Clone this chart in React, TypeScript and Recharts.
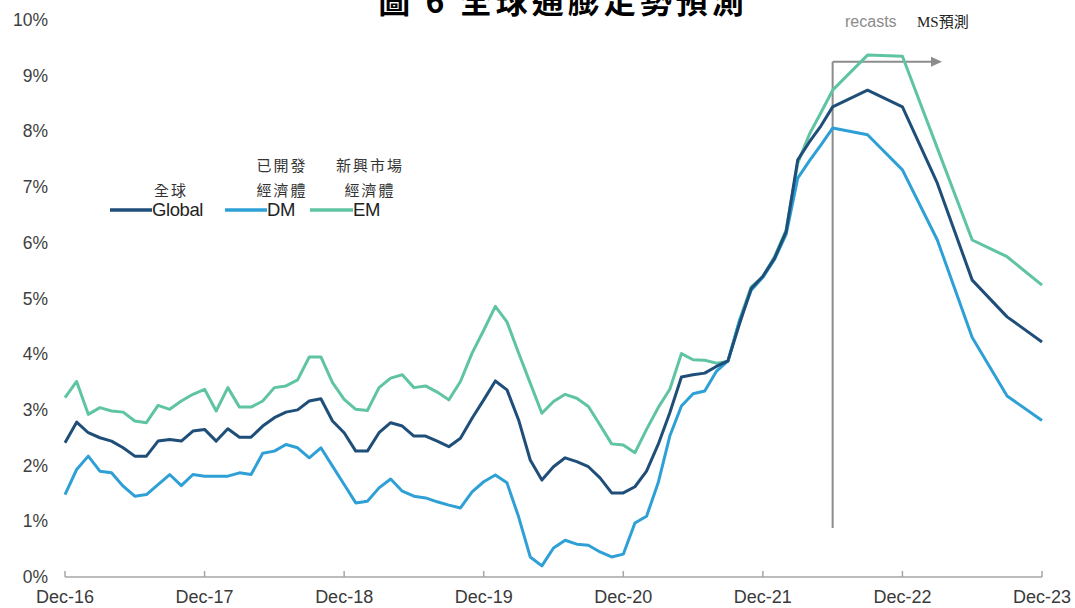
import React from "react";
import { LineChart, Line, XAxis, YAxis, ReferenceLine } from "recharts";

// ---------------- data (monthly, Dec-16 = month 0) ----------------
const tickMonths = [0, 12, 24, 36, 48, 60, 72, 84];
const tickLabels = ["Dec-16", "Dec-17", "Dec-18", "Dec-19", "Dec-20", "Dec-21", "Dec-22", "Dec-23"];
const yTicks = [0, 1, 2, 3, 4, 5, 6, 7, 8, 9, 10];

// history: month 0 .. 66
const globalHist = [
  2.41, 2.78, 2.59, 2.5, 2.44, 2.32, 2.17, 2.17, 2.44, 2.47, 2.44, 2.62,
  2.65, 2.44, 2.66, 2.51, 2.51, 2.71, 2.86, 2.96, 3.0, 3.16, 3.2, 2.8,
  2.59, 2.26, 2.26, 2.59, 2.77, 2.71, 2.53, 2.53, 2.44, 2.34, 2.49, 2.85,
  3.18, 3.52, 3.36, 2.82, 2.1, 1.74, 1.98, 2.14, 2.07, 1.98, 1.78, 1.51,
  1.51, 1.62, 1.9, 2.38, 2.95, 3.59, 3.63, 3.66, 3.78, 3.88, 4.55, 5.18,
  5.4, 5.72, 6.2, 7.49, 7.81, 8.1, 8.44,
];
const dmHist = [
  1.48, 1.93, 2.17, 1.9, 1.87, 1.63, 1.45, 1.48, 1.66, 1.84, 1.64, 1.84,
  1.81, 1.81, 1.81, 1.87, 1.84, 2.22, 2.26, 2.38, 2.32, 2.14, 2.32, 1.99,
  1.66, 1.33, 1.36, 1.6, 1.76, 1.54, 1.45, 1.42, 1.35, 1.29, 1.24, 1.53,
  1.71, 1.83, 1.69, 1.08, 0.36, 0.2, 0.52, 0.66, 0.59, 0.57, 0.45, 0.36,
  0.41, 0.97, 1.09, 1.69, 2.53, 3.07, 3.29, 3.34, 3.69, 3.88, 4.6, 5.15,
  5.38, 5.7, 6.15, 7.16, 7.47, 7.76, 8.06,
];
const emHist = [
  3.22, 3.51, 2.92, 3.04, 2.98, 2.96, 2.8, 2.77, 3.08, 3.01, 3.16, 3.28,
  3.37, 2.98, 3.4, 3.05, 3.05, 3.16, 3.4, 3.43, 3.54, 3.95, 3.95, 3.49,
  3.19, 3.01, 2.99, 3.4, 3.57, 3.63, 3.4, 3.43, 3.32, 3.18, 3.51, 4.02,
  4.43, 4.86, 4.58, 4.02, 3.48, 2.94, 3.15, 3.28, 3.21, 3.06, 2.73, 2.39,
  2.37, 2.23, 2.65, 3.04, 3.37, 4.01, 3.9, 3.89, 3.84, 3.87, 4.62, 5.21,
  5.39, 5.75, 6.23, 7.43, 7.95, 8.34, 8.74,
];

// MS forecasts (quarterly points)
const forecastMonths = [69, 72, 75, 78, 81, 84];
const globalFc = [8.74, 8.44, 7.07, 5.33, 4.67, 4.22];
const dmFc = [7.94, 7.31, 6.05, 4.3, 3.25, 2.81];
const emFc = [9.37, 9.35, 7.7, 6.05, 5.75, 5.24];

const forecastStart = 66;

const COLORS = { global: "#1f4e79", dm: "#2ea0d6", em: "#5fc4a3" };
const AXIS_GREY = "#a6a6a6";
const FONT = "'Liberation Sans', Arial, sans-serif";
const CJK = "'Noto Sans CJK TC', sans-serif";

function pick(hist: number[], fc: number[], m: number): number | null {
  if (m < hist.length) return hist[m];
  const i = forecastMonths.indexOf(m);
  return i >= 0 ? fc[i] : null;
}

const data = Array.from({ length: 85 }, (_, m) => ({
  m,
  global: pick(globalHist, globalFc, m),
  dm: pick(dmHist, dmFc, m),
  em: pick(emHist, emFc, m),
}));

// ---------------- ticks / shapes ----------------
const XTick = (props: any) => {
  const { x, y, payload } = props;
  const idx = tickMonths.indexOf(payload.value);
  return (
    <g>
      <line x1={x} x2={x} y1={y - 6} y2={y} stroke={AXIS_GREY} strokeWidth={1.5} />
      <text x={x} y={y + 26} textAnchor="middle" fontFamily={FONT} fontSize={18} fill="#3a3a3a">
        {tickLabels[idx]}
      </text>
    </g>
  );
};

const YTick = (props: any) => {
  const { y, payload } = props;
  return (
    <text x={48} y={y + 6} textAnchor="end" fontFamily={FONT} fontSize={17.5} fill="#404040">
      {payload.value}%
    </text>
  );
};

const ArrowLine = (props: any) => {
  const { x1, y1, x2, y2 } = props;
  return (
    <g>
      <line x1={x1} y1={y1} x2={x2 - 8} y2={y2} stroke="#8c8c8c" strokeWidth={2} />
      <polygon points={`${x2},${y2} ${x2 - 11},${y2 - 5} ${x2 - 11},${y2 + 5}`} fill="#8c8c8c" />
    </g>
  );
};

// ---------------- legend ----------------
const legendItems = [
  { key: "global", name: "Global", cn: ["", "全球"], x1: 110, x2: 152, cx: 171 },
  { key: "dm", name: "DM", cn: ["已開發", "經濟體"], x1: 225, x2: 267, cx: 282 },
  { key: "em", name: "EM", cn: ["新興市場", "經濟體"], x1: 310, x2: 353, cx: 370 },
] as const;

export default function App() {
  return (
    <div style={{ position: "absolute", left: 0, top: 0, width: 1075, height: 608, background: "#fff", overflow: "hidden" }}>
      <LineChart width={1075} height={608} data={data} margin={{ top: 20, right: 33, left: 0, bottom: 0 }}>
        <XAxis
          dataKey="m"
          type="number"
          domain={[0, 84]}
          ticks={tickMonths}
          height={31}
          tickSize={0}
          tickMargin={0}
          tickLine={false}
          axisLine={{ stroke: AXIS_GREY, strokeWidth: 1.5 }}
          tick={<XTick />}
          interval={0}
        />
        <YAxis
          type="number"
          domain={[0, 10]}
          ticks={yTicks}
          width={65}
          axisLine={false}
          tickLine={false}
          tick={<YTick />}
          interval={0}
        />
        <ReferenceLine
          segment={[{ x: forecastStart, y: 0.88 }, { x: forecastStart, y: 9.25 }]}
          stroke="#8c8c8c"
          strokeWidth={2}
        />
        <ReferenceLine
          segment={[{ x: forecastStart, y: 9.25 }, { x: 75.4, y: 9.25 }]}
          shape={<ArrowLine />}
        />
        <Line dataKey="em" type="linear" stroke={COLORS.em} strokeWidth={3} dot={false} connectNulls isAnimationActive={false} strokeLinejoin="round" />
        <Line dataKey="dm" type="linear" stroke={COLORS.dm} strokeWidth={3} dot={false} connectNulls isAnimationActive={false} strokeLinejoin="round" />
        <Line dataKey="global" type="linear" stroke={COLORS.global} strokeWidth={3} dot={false} connectNulls isAnimationActive={false} strokeLinejoin="round" />
      </LineChart>

      <svg width={1075} height={608} style={{ position: "absolute", left: 0, top: 0, pointerEvents: "none" }}>
        <text x={563} y={13} textAnchor="middle" fontFamily={CJK} fontWeight={700} fontSize={32} letterSpacing={4} fill="#000">
          圖 6 全球通膨走勢預測
        </text>
        <text x={845} y={27} fontFamily={FONT} fontSize={16} fill="#8a8a8a">recasts</text>
        <text x={917} y={27} fontFamily="'Liberation Serif', serif" fontSize={15} fill="#222">
          MS<tspan fontFamily={CJK}>預測</tspan>
        </text>
        {legendItems.map((it) => (
          <g key={it.key}>
            <line x1={it.x1} x2={it.x2} y1={210} y2={210} stroke={COLORS[it.key]} strokeWidth={3.5} />
            <text x={it.x2} y={216} fontFamily={FONT} fontSize={18.5} letterSpacing={-0.4} fill="#222">{it.name}</text>
            {it.cn[0] && (
              <text x={it.cx} y={171} textAnchor="middle" fontFamily={CJK} fontSize={15} letterSpacing={2} fill="#333">{it.cn[0]}</text>
            )}
            <text x={it.cx} y={196} textAnchor="middle" fontFamily={CJK} fontSize={15} letterSpacing={2} fill="#333">{it.cn[1]}</text>
          </g>
        ))}
      </svg>
    </div>
  );
}
